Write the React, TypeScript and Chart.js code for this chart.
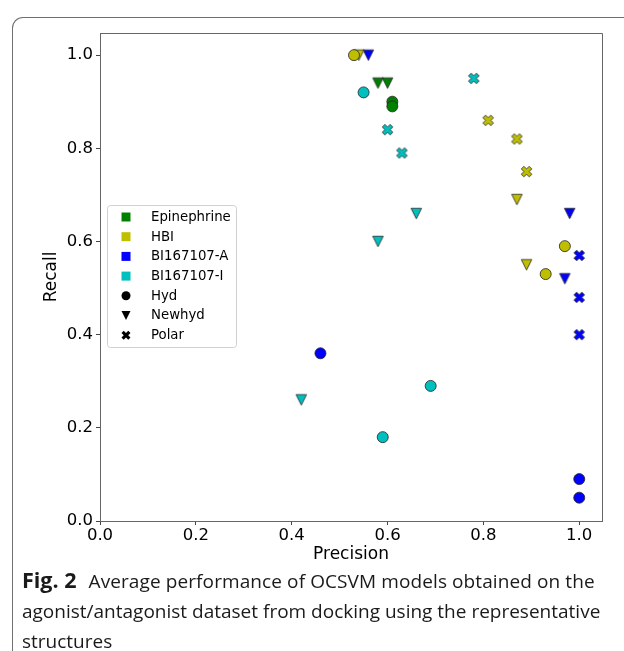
import React, { useEffect, useRef } from "react";
import { Chart, registerables } from "chart.js";

Chart.register(...registerables);

// ---- data (Precision, Recall) ----
const epinephrineHyd = [[0.61, 0.90], [0.61, 0.89]];
const epinephrineNewhyd = [[0.58, 0.94], [0.60, 0.94]];
const epinephrinePolar: number[][] = [];

const hbiHyd = [[0.53, 1.0], [0.97, 0.59], [0.93, 0.53]];
const hbiNewhyd = [[0.54, 1.0], [0.87, 0.69], [0.89, 0.55]];
const hbiPolar = [[0.81, 0.86], [0.87, 0.82], [0.89, 0.75]];

const biAHyd = [[0.46, 0.36], [1.0, 0.09], [1.0, 0.05]];
const biANewhyd = [[0.56, 1.0], [0.98, 0.66], [0.97, 0.52]];
const biAPolar = [[1.0, 0.57], [1.0, 0.48], [1.0, 0.40]];

const biIHyd = [[0.55, 0.92], [0.69, 0.29], [0.59, 0.18]];
const biINewhyd = [[0.66, 0.66], [0.58, 0.60], [0.42, 0.26]];
const biIPolar = [[0.78, 0.95], [0.60, 0.84], [0.63, 0.79]];

const ligandNames = ["Epinephrine", "HBI", "BI167107-A", "BI167107-I"];
const ligandColors = ["#008000", "#bfbf00", "#0000ff", "#00bfbf"];
const modelNames = ["Hyd", "Newhyd", "Polar"];
const modelShapes = ["circle", "tridown", "xfill"];
const seriesData = [
  [epinephrineHyd, epinephrineNewhyd, epinephrinePolar],
  [hbiHyd, hbiNewhyd, hbiPolar],
  [biAHyd, biANewhyd, biAPolar],
  [biIHyd, biINewhyd, biIPolar],
];

const tickValues = [0, 0.2, 0.4, 0.6, 0.8, 1.0];
const xTitle = "Precision";
const yTitle = "Recall";

function drawShape(ctx: CanvasRenderingContext2D, shape: string, cx: number, cy: number, s: number) {
  ctx.beginPath();
  if (shape === "circle") {
    ctx.arc(cx, cy, s / 2, 0, Math.PI * 2);
  } else if (shape === "tridown") {
    ctx.moveTo(cx, cy + s / 2);
    ctx.lineTo(cx - s / 2, cy - s / 2);
    ctx.lineTo(cx + s / 2, cy - s / 2);
  } else if (shape === "xfill") {
    const v = [[-1, -2], [0, -1], [1, -2], [2, -1], [1, 0], [2, 1], [1, 2], [0, 1], [-1, 2], [-2, 1], [-1, 0], [-2, -1]];
    v.forEach((p, i) => {
      const x = cx + (p[0] / 4) * s;
      const y = cy + (p[1] / 4) * s;
      if (i === 0) ctx.moveTo(x, y);
      else ctx.lineTo(x, y);
    });
  } else if (shape === "square") {
    ctx.rect(cx - s / 2, cy - s / 2, s, s);
  }
  ctx.closePath();
}

function makeMarker(shape: string, color: string, s: number, edge: boolean) {
  const c = document.createElement("canvas");
  const size = Math.ceil(s + 4);
  c.width = size;
  c.height = size;
  const ctx = c.getContext("2d")!;
  drawShape(ctx, shape, size / 2, size / 2, s);
  ctx.fillStyle = color;
  ctx.fill();
  if (edge) {
    ctx.lineWidth = 0.8;
    ctx.strokeStyle = "#222";
    ctx.stroke();
  }
  return c;
}

const frameAndLegend = {
  id: "frameAndLegend",
  afterDraw(chart: any) {
    const { ctx, chartArea } = chart;
    ctx.save();
    ctx.strokeStyle = "#666";
    ctx.lineWidth = 1;
    ctx.beginPath();
    ctx.moveTo(chartArea.left, chartArea.top + 0.5);
    ctx.lineTo(chartArea.right + 0.5, chartArea.top + 0.5);
    ctx.lineTo(chartArea.right + 0.5, chartArea.bottom);
    ctx.stroke();

    // legend
    const bx = 107.5, by = 205.5, bw = 129, bh = 142, r = 3;
    ctx.beginPath();
    ctx.moveTo(bx + r, by);
    ctx.arcTo(bx + bw, by, bx + bw, by + bh, r);
    ctx.arcTo(bx + bw, by + bh, bx, by + bh, r);
    ctx.arcTo(bx, by + bh, bx, by, r);
    ctx.arcTo(bx, by, bx + bw, by, r);
    ctx.closePath();
    ctx.fillStyle = "rgba(255,255,255,0.8)";
    ctx.fill();
    ctx.strokeStyle = "#d0d0d0";
    ctx.stroke();

    const items: { label: string; shape: string; color: string }[] = [];
    ligandNames.forEach((n, i) => items.push({ label: n, shape: "square", color: ligandColors[i] }));
    modelNames.forEach((n, i) => items.push({ label: n, shape: modelShapes[i], color: "#000" }));
    ctx.font = "13.3px 'DejaVu Sans'";
    ctx.textBaseline = "middle";
    ctx.textAlign = "left";
    items.forEach((it, i) => {
      const y = 217 + i * 19.7;
      drawShape(ctx, it.shape, 126, y, 9);
      ctx.fillStyle = it.color;
      ctx.fill();
      ctx.fillStyle = "#000";
      ctx.fillText(it.label, 151, y + 0.5);
    });
    ctx.restore();
  },
};

export default function App() {
  const ref = useRef<HTMLCanvasElement>(null);
  useEffect(() => {
    const datasets: any[] = [];
    seriesData.forEach((group, li) => {
      group.forEach((pts, mi) => {
        if (!pts.length) return;
        const shape = modelShapes[mi];
        const style = shape === "circle" ? "circle" : makeMarker(shape, ligandColors[li], 10.5, true);
        datasets.push({
          label: ligandNames[li] + " " + modelNames[mi],
          data: pts.map((p) => ({ x: p[0], y: p[1] })),
          pointStyle: style,
          pointRadius: 5.5,
          pointHoverRadius: 5.5,
          backgroundColor: ligandColors[li],
          borderColor: "#222",
          borderWidth: 0.8,
        });
      });
    });

    const axisCommon = (title: string, isX: boolean) => ({
      type: "linear",
      min: 0,
      max: 1.0475,
      afterBuildTicks: (scale: any) => {
        scale.ticks = tickValues.map((v) => ({ value: v }));
      },
      afterFit: (scale: any) => {
        if (isX) scale.height = 54;
        else scale.width = 70;
      },
      ticks: {
        color: "#000",
        font: { family: "'DejaVu Sans'", size: 16.5 },
        padding: isX ? 0.5 : 3,
        callback: (v: number) => Number(v).toFixed(1),
        maxRotation: 0,
        autoSkip: false,
      },
      grid: {
        display: true,
        drawOnChartArea: false,
        drawTicks: true,
        tickLength: 4,
        tickColor: "#444",
      },
      border: { display: true, color: "#666", width: 1 },
      title: {
        display: true,
        text: title,
        color: "#000",
        font: { family: "'DejaVu Sans'", size: 17 },
        padding: isX ? { top: 0, bottom: 10.5 } : { top: 11, bottom: 0 },
      },
    });

    const chart = new Chart(ref.current!, {
      type: "scatter",
      data: { datasets },
      options: {
        responsive: false,
        animation: false,
        layout: { padding: { left: 30, top: 33, right: 22, bottom: 0 } },
        plugins: { legend: { display: false }, tooltip: { enabled: false } },
        scales: {
          x: axisCommon(xTitle, true) as any,
          y: axisCommon(yTitle, false) as any,
        },
      },
      plugins: [frameAndLegend],
    });
    return () => chart.destroy();
  }, []);

  return (
    <div
      style={{
        position: "fixed",
        left: 0,
        top: 0,
        width: 624,
        height: 651,
        overflow: "hidden",
        background: "#fff",
      }}
    >
      <div
        style={{
          position: "absolute",
          left: 12,
          top: 17,
          width: 800,
          height: 800,
          borderLeft: "1.5px solid #707070",
          borderTop: "1.5px solid #707070",
          borderTopLeftRadius: 11,
        }}
      />
      <canvas
        ref={ref}
        width={624}
        height={575}
        style={{ position: "absolute", left: 0, top: 0, width: 624, height: 575 }}
      />
      <div
        style={{
          position: "absolute",
          left: 22,
          top: 565,
          width: 610,
          fontFamily: "'Open Sans', sans-serif",
          fontSize: 19,
          lineHeight: "30px",
          color: "#1a1a1a",
          whiteSpace: "nowrap",
        }}
      >
        <b style={{ fontSize: 21.5, marginRight: 12 }}>Fig. 2</b>
        <span style={{ letterSpacing: 0.1 }}>Average performance of OCSVM models obtained on the</span>
        <br />
        agonist/antagonist dataset from docking using the representative
        <br />
        structures
      </div>
    </div>
  );
}
